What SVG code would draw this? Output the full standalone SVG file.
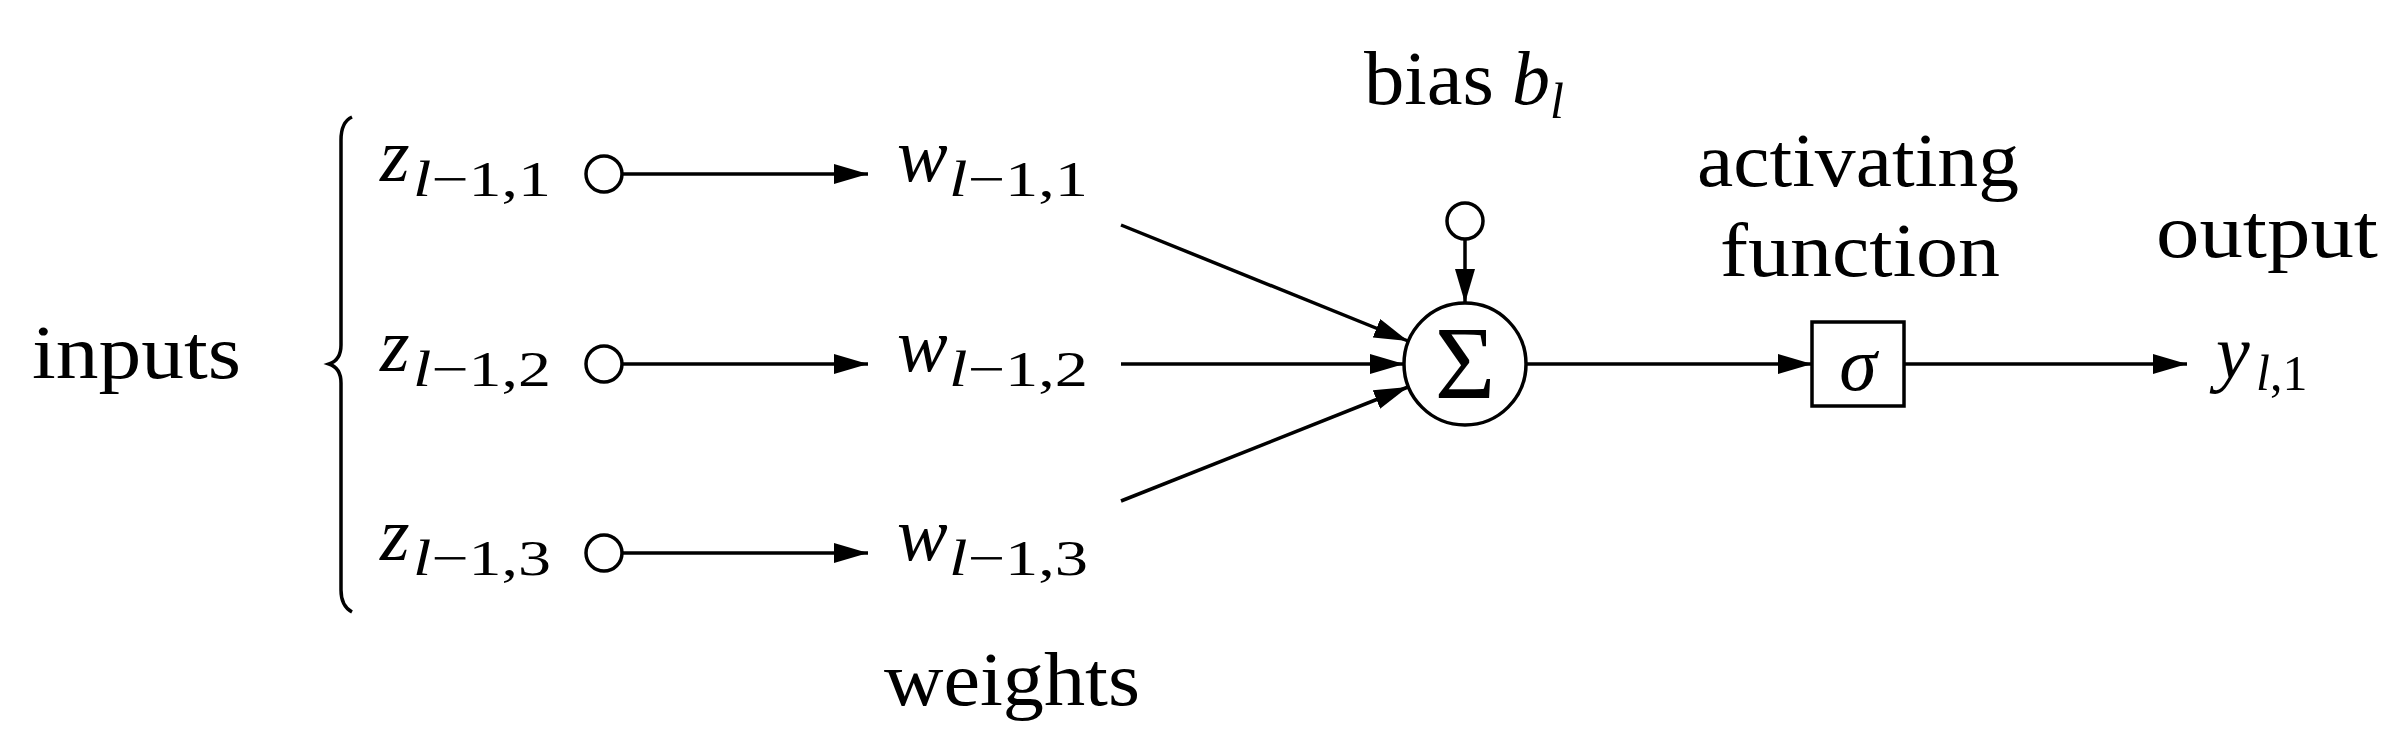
<svg xmlns="http://www.w3.org/2000/svg" width="2404" height="745" viewBox="0 0 2404 745">
<style>
text{font-family:"Liberation Serif","DejaVu Serif",serif;fill:#000}
.t{font-size:76px}
.m{font-size:76px;font-style:italic}
.s{font-size:50px}
.si{font-size:50px;font-style:italic}
.ln{stroke:#000;stroke-width:3.5;fill:none}
.nd{stroke:#000;stroke-width:3.5;fill:#fff}
</style>
<defs>
<marker id="ah" viewBox="0 0 34 20" refX="34" refY="10" markerWidth="34" markerHeight="20" markerUnits="userSpaceOnUse" orient="auto">
<path d="M0,0 L34,10 L0,20 Z" fill="#000"/>
</marker>
</defs>
<rect width="2404" height="745" fill="#fff"/>
<g id="connectors">
<line class="ln" x1="623" y1="174" x2="868" y2="174" marker-end="url(#ah)"/>
<line class="ln" x1="623" y1="364" x2="868" y2="364" marker-end="url(#ah)"/>
<line class="ln" x1="623" y1="553" x2="868" y2="553" marker-end="url(#ah)"/>
<line class="ln" x1="1121" y1="225" x2="1408" y2="341" marker-end="url(#ah)"/>
<line class="ln" x1="1121" y1="364" x2="1404" y2="364" marker-end="url(#ah)"/>
<line class="ln" x1="1121" y1="501" x2="1408" y2="387" marker-end="url(#ah)"/>
<line class="ln" x1="1465" y1="239" x2="1465" y2="303" marker-end="url(#ah)"/>
<line class="ln" x1="1526" y1="364" x2="1812" y2="364" marker-end="url(#ah)"/>
<line class="ln" x1="1904" y1="364" x2="2187" y2="364" marker-end="url(#ah)"/>
</g>
<g id="brace"><path class="ln" d="M352,117 Q341,122 341,140 L341,345 Q341,360 329,364 Q341,368 341,383 L341,590 Q341,606 352,612"/></g>
<g id="label-inputs"><text class="t" x="32" y="378" textLength="209" lengthAdjust="spacingAndGlyphs">inputs</text></g>
<g id="z1"><text class="m" x="380" y="181">z</text><text class="si" x="413" y="196" textLength="138" lengthAdjust="spacingAndGlyphs">l<tspan font-style="normal">−1,1</tspan></text><circle class="nd" cx="604" cy="174" r="18"/></g>
<g id="z2"><text class="m" x="380" y="371">z</text><text class="si" x="413" y="386" textLength="138" lengthAdjust="spacingAndGlyphs">l<tspan font-style="normal">−1,2</tspan></text><circle class="nd" cx="604" cy="364" r="18"/></g>
<g id="z3"><text class="m" x="380" y="560">z</text><text class="si" x="413" y="575" textLength="138" lengthAdjust="spacingAndGlyphs">l<tspan font-style="normal">−1,3</tspan></text><circle class="nd" cx="604" cy="553" r="18"/></g>
<g id="w1"><text class="m" x="897" y="181">w</text><text class="si" x="949" y="196" textLength="139" lengthAdjust="spacingAndGlyphs">l<tspan font-style="normal">−1,1</tspan></text></g>
<g id="w2"><text class="m" x="897" y="371">w</text><text class="si" x="949" y="386" textLength="139" lengthAdjust="spacingAndGlyphs">l<tspan font-style="normal">−1,2</tspan></text></g>
<g id="w3"><text class="m" x="897" y="560">w</text><text class="si" x="949" y="575" textLength="139" lengthAdjust="spacingAndGlyphs">l<tspan font-style="normal">−1,3</tspan></text></g>
<g id="label-weights"><text class="t" x="884" y="705" textLength="256" lengthAdjust="spacingAndGlyphs">weights</text></g>
<g id="bias"><text class="t" x="1364" y="104" textLength="130" lengthAdjust="spacingAndGlyphs">bias</text><text class="m" x="1512" y="104">b</text><text class="si" x="1550" y="118">l</text><circle class="nd" cx="1465" cy="221" r="18"/></g>
<g id="sum"><circle class="nd" cx="1465" cy="364" r="61"/><text x="1465" y="398" font-size="104" text-anchor="middle">Σ</text></g>
<g id="activation"><text class="t" x="1697" y="186" textLength="322" lengthAdjust="spacingAndGlyphs">activating</text><text class="t" x="1720" y="276" textLength="280" lengthAdjust="spacingAndGlyphs">function</text><rect class="nd" x="1812" y="322" width="92" height="84"/><text class="m" x="1858" y="390" text-anchor="middle" font-size="104">σ</text></g>
<g id="output"><text class="t" x="2156" y="257" textLength="222" lengthAdjust="spacingAndGlyphs">output</text><text class="m" x="2216" y="378">y</text><text class="si" x="2256" y="390">l<tspan font-style="normal">,1</tspan></text></g>
</svg>
